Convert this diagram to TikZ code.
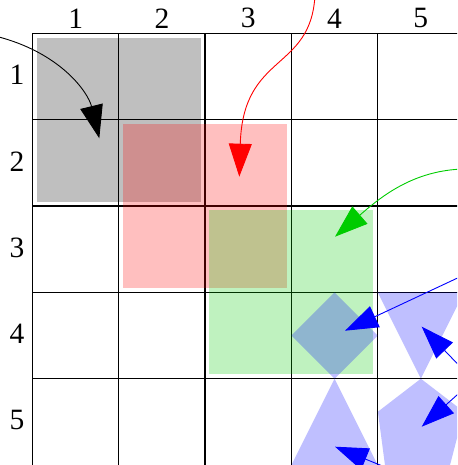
\documentclass[tikz,border=0pt]{standalone}
\usepackage{fontspec}
\setmainfont{Liberation Serif}
\usetikzlibrary{arrows.meta}
\definecolor{mygreen}{RGB}{0,204,0}
\begin{document}
\begin{tikzpicture}[x=1pt,y=-1pt,
  gridline/.style={line width=1.3pt, black, line cap=rect},
  lbl/.style={inner sep=0pt, font=\fontsize{29.5}{30}\selectfont},
  patch/.style={fill opacity=0.25},
  pointer/.style={line width=0.9pt, -{Triangle[length=33pt,width=23pt]}},
]
\useasboundingbox (0,0) rectangle (457,465);
\clip (0,0) rectangle (457,465);
% grid
\foreach \i in {0,...,4} {
  \draw[gridline] ({32.5+86.3*\i},33.5) -- ({32.5+86.3*\i},470);
  \draw[gridline] (32.5,{33.5+86.3*\i}) -- (470,{33.5+86.3*\i});
}
% labels
\foreach \i in {1,...,5} {
  \node[lbl] (col\i) at ({32.5+86.3*(\i-0.5)}, 18.3) {\i};
  \node[lbl] (row\i) at (17, {33.5+86.3*(\i-0.5)-1.5}) {\i};
}
% shaded regions
\fill[black, patch] (36.8,37.8) rectangle (200.8,201.8);
\fill[red, patch] (123.1,124.1) rectangle (287.1,288.1);
\fill[mygreen, patch] (209.4,210.4) rectangle (373.4,374.4);
\fill[blue, patch] (334.55,292.4) -- (377.7,335.55) -- (334.55,378.7) -- (291.4,335.55) -- cycle;
\fill[blue, patch] (377.7,292.4) -- (464,292.4) -- (420.85,378.7) -- cycle;
\fill[blue, patch] (334.55,378.7) -- (377.7,465) -- (291.4,465) -- cycle;
\fill[blue, patch] (420.85,378.7) -- (463.8,411.7) -- (441,500) -- (389.6,500) -- (377.9,411.7) -- cycle;
% arrows
\coordinate (ka) at (-5,36);
\coordinate (kb) at (99.3,138.3);
\draw[pointer, black] (ka) .. controls (60,52) and (88,92) .. (kb);
\coordinate (ra) at (315,-5);
\coordinate (rb) at (239.3,176.7);
\draw[pointer, red] (ra) .. controls (311,72) and (243,52) .. (rb);
\coordinate (ga) at (470,169);
\coordinate (gb) at (335,236.7);
\draw[pointer, mygreen] (ga) .. controls (415,168) and (380.4,197.3) .. (gb);
\coordinate (ba1) at (480,267.5);
\coordinate (bb1) at (345,330.7);
\draw[pointer, blue] (ba1) -- (bb1);
\coordinate (ba2) at (480,387.2);
\coordinate (bb2) at (421.7,326.7);
\draw[pointer, blue] (ba2) -- (bb2);
\coordinate (ba3) at (480,374.3);
\coordinate (bb3) at (421.7,426.7);
\draw[pointer, blue] (ba3) -- (bb3);
\coordinate (ba4) at (420,481.3);
\coordinate (bb4) at (335,446.7);
\draw[pointer, blue] (ba4) -- (bb4);
\end{tikzpicture}
\end{document}
